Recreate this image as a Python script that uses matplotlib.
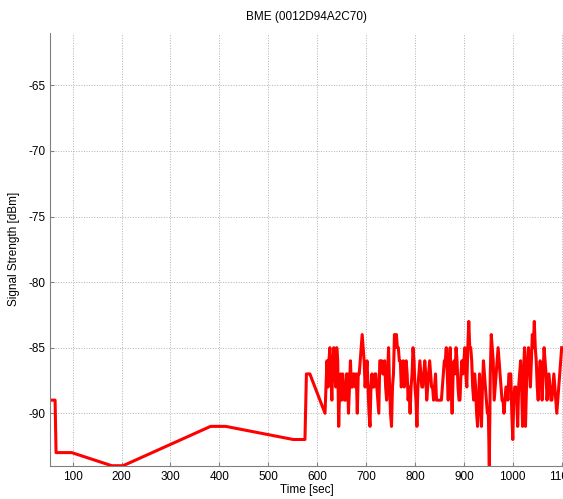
import numpy as np
import matplotlib.pyplot as plt

plt.rcParams['font.family'] = ['Liberation Sans', 'DejaVu Sans']
plt.rcParams['axes.unicode_minus'] = False

# slow-changing part of the trace (time in sec, RSSI in dBm)
t_start = [53, 64, 66, 98, 180, 203, 382, 413, 551, 575, 578, 585, 616]
rssi_start = [-89, -89, -93, -93, -94, -94, -91, -91, -92, -92, -87, -87, -90]

# noisy part, one sample every 2 s from 620 s on
t_noise = list(range(620, 1101, 2))
rssi_noise = [
    -86, -88, -86, -85, -87, -89, -86, -85, -87, -88, -85, -86,
    -91, -88, -87, -89, -87, -88, -89, -89, -87, -87, -90, -88,
    -86, -88, -88, -87, -87, -88, -87, -90, -87, -87, -86, -85,
    -84, -85, -86, -88, -87, -86, -88, -90, -91, -88, -87, -88,
    -88, -87, -87, -88, -89, -90, -86, -86, -86, -87, -87, -86,
    -88, -89, -87, -85, -88, -90, -91, -88, -87, -84, -85, -84,
    -85, -85, -86, -86, -88, -87, -86, -88, -87, -86, -87, -89,
    -88, -90, -88, -87, -85, -86, -88, -89, -91, -88, -87, -86,
    -87, -88, -88, -87, -86, -87, -89, -88, -87, -86, -87, -88,
    -88, -89, -88, -87, -89, -89, -89, -89, -89, -89, -88, -87,
    -86, -86, -85, -87, -89, -86, -85, -88, -90, -87, -86, -87,
    -85, -86, -88, -89, -89, -87, -86, -87, -86, -85, -87, -88,
    -85, -83, -85, -85, -86, -88, -89, -87, -88, -90, -91, -89,
    -87, -89, -91, -88, -86, -87, -88, -89, -90, -90, -94, -87,
    -84, -85, -86, -89, -88, -87, -86, -85, -86, -87, -88, -89,
    -89, -90, -89, -88, -88, -89, -87, -87, -87, -90, -92, -89,
    -88, -88, -89, -91, -88, -87, -86, -88, -91, -87, -85, -91,
    -88, -86, -85, -86, -88, -86, -84, -85, -83, -85, -86, -88,
    -89, -87, -86, -87, -89, -87, -85, -86, -87, -89, -88, -87,
    -88, -89, -89, -88, -87, -88, -89, -90, -89, -88, -87, -86,
    -85,
]

t = t_start + t_noise
rssi = rssi_start + rssi_noise

fig = plt.figure(figsize=(5.63, 4.99), dpi=100)
ax = fig.add_axes([0.0888, 0.0667, 0.9112, 0.8673])

ax.plot(t, rssi, color='#ff0000', linewidth=2.2)

ax.set_xlim(53.6, 1102.7)
ax.set_ylim(-94, -61)
ax.set_xticks(np.arange(100, 1101, 100))
ax.set_yticks(np.arange(-90, -64, 5))

ax.grid(True, linestyle=':', color='#b0b0b0', linewidth=0.7)
ax.spines['top'].set_visible(False)
ax.spines['right'].set_visible(False)
for s in ['left', 'bottom']:
    ax.spines[s].set_color('#808080')
ax.tick_params(direction='in', length=3, color='#808080', labelsize=8.5)

ax.set_title('BME (0012D94A2C70)', fontsize=8.5, pad=9)
ax.set_xlabel('Time [sec]', fontsize=8.5, labelpad=1)
ax.set_ylabel('Signal Strength [dBm]', fontsize=8.5)
ax.yaxis.set_label_coords(-0.058, 0.5)

fig.savefig('out.png', dpi=100)
